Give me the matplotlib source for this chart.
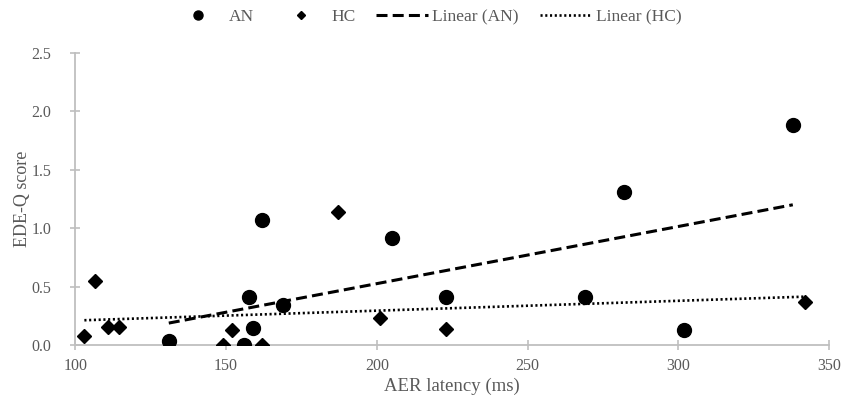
import numpy as np
import matplotlib
matplotlib.use("Agg")
import matplotlib.pyplot as plt
from matplotlib.lines import Line2D

an_x = [131, 156, 157.5, 159, 162, 169, 205, 223, 269, 282, 302, 338]
an_y = [0.04, 0.00, 0.41, 0.15, 1.07, 0.34, 0.92, 0.41, 0.41, 1.31, 0.13, 1.88]
hc_x = [103, 106.5, 111, 114.5, 149, 152, 162, 187, 201, 223, 342]
hc_y = [0.08, 0.55, 0.16, 0.16, 0.00, 0.13, 0.00, 1.14, 0.23, 0.14, 0.37]

x_ticks = [100, 150, 200, 250, 300, 350]
y_ticks = [0.0, 0.5, 1.0, 1.5, 2.0, 2.5]

plt.rcParams['font.family'] = ['Liberation Serif', 'DejaVu Serif']
txt = '#595959'
grid_c = '#bfbfbf'
dash_an = (0, (3.6, 1.7))
dot_hc = (0, (0.8, 1.0))

fig = plt.figure(figsize=(8.54, 4.03), dpi=100)
ax = fig.add_axes([0.0882, 0.1432, 0.8825, 0.726])

ax.plot(an_x, an_y, 'o', color='black', markersize=10, linestyle='none', zorder=3)
ax.plot(hc_x, hc_y, 'D', color='black', markersize=7.5, linestyle='none', zorder=3)

pa = np.polyfit(an_x, an_y, 1)
xa = np.array([min(an_x), max(an_x)])
ax.plot(xa, np.polyval(pa, xa), color='black', linestyle=dash_an, linewidth=2.2, zorder=2)
ph = np.polyfit(hc_x, hc_y, 1)
xh = np.array([min(hc_x), max(hc_x)])
ax.plot(xh, np.polyval(ph, xh), color='black', linestyle=dot_hc, linewidth=1.9, zorder=2)

ax.set_xlim(100, 350)
ax.set_ylim(0, 2.5)
ax.set_xticks(x_ticks)
ax.set_yticks(y_ticks)
ax.set_yticklabels([f'{v:.1f}' for v in y_ticks])
for s in ['top', 'right']:
    ax.spines[s].set_visible(False)
for s in ['left', 'bottom']:
    ax.spines[s].set_color(grid_c)
    ax.spines[s].set_linewidth(1.3)
ax.tick_params(axis='both', direction='inout', length=7, width=1.2, color=grid_c,
               labelcolor=txt, labelsize=11.5)
ax.tick_params(axis='y', pad=14)
ax.tick_params(axis='x', pad=6)
ax.set_xlabel('AER latency (ms)', fontsize=13.5, color=txt, labelpad=2)
ax.set_ylabel('EDE-Q score', fontsize=13, color=txt, labelpad=0)

handles = [
    Line2D([], [], marker='o', color='black', linestyle='none', markersize=6.5),
    Line2D([], [], marker='D', color='black', linestyle='none', markersize=4.5),
    Line2D([], [], color='black', linestyle=dash_an, linewidth=2.2),
    Line2D([], [], color='black', linestyle=dot_hc, linewidth=1.9),
]
labels = ['AN', 'HC', 'Linear (AN)', 'Linear (HC)']
leg = fig.legend(handles, labels, loc='center', bbox_to_anchor=(0.5, 0.957), ncol=4,
                 frameon=False, fontsize=12.5, labelcolor=txt, handlelength=3.0,
                 columnspacing=1.2, handletextpad=0.25)

fig.savefig('out.png', dpi=100)
